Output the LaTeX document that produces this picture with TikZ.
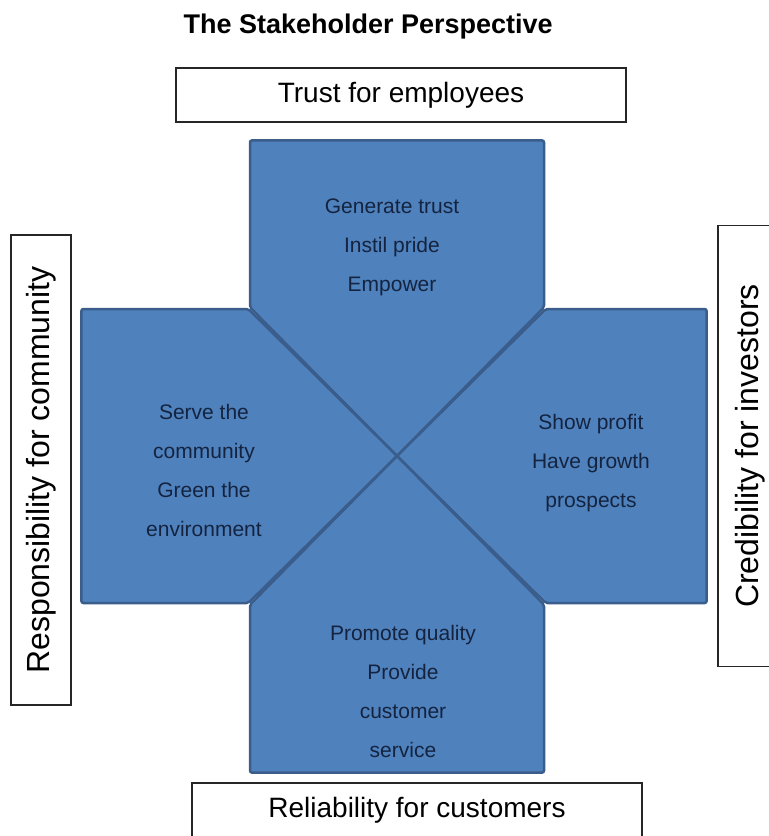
\documentclass[tikz,border=0pt]{standalone}
\usepackage{fontspec}
\setmainfont{Liberation Sans}
\definecolor{petalfill}{HTML}{4F81BD}
\definecolor{petalline}{HTML}{3A5D8B}
\definecolor{petalink}{HTML}{142440}
\tikzset{
    petal/.style={fill=petalfill, draw=petalline, line width=2.5pt, rounded corners=2pt},
    petaltext/.style={text=petalink, align=center, font=\fontsize{21}{39}\selectfont},
    sidebox/.style={draw=black!85, line width=1.3pt, inner sep=0pt, font=\fontsize{28}{32}\selectfont},
    upbox/.style={sidebox, rotate=90, font=\fontsize{32}{36}\selectfont}
}
\begin{document}
\begin{tikzpicture}[x=1pt, y=-1pt]
    \useasboundingbox[fill=white] (0,0) rectangle (769,836);

    \node[anchor=base west, font=\bfseries\fontsize{27}{30}\selectfont] (title) at (180,33) {The Stakeholder Perspective};

    % the four petals
    \coordinate (hub) at (397,456);
    \filldraw[petal, yshift=1.6pt] (250,142) -- (544,142) -- (544,309) -- (hub) -- (250,309) -- cycle;
    \filldraw[petal, xshift=-1.6pt] (83,309) -- (250,309) -- (hub) -- (250,603) -- (83,603) -- cycle;
    \filldraw[petal, xshift=1.6pt] (544,309) -- (705,309) -- (705,603) -- (544,603) -- (hub) -- cycle;
    \filldraw[petal, yshift=-1.6pt] (250,603) -- (hub) -- (544,603) -- (544,771) -- (250,771) -- cycle;

    \node[petaltext] (employ) at (392,247) {Generate trust\\Instil pride\\Empower};
    \node[petaltext] (commun) at (204,470) {Serve the\\community\\Green the\\environment};
    \node[petaltext] (invest) at (591,463) {Show profit\\Have growth\\prospects};
    \node[petaltext] (custom) at (403,691) {Promote quality\\Provide\\customer\\service};

    % outer labels
    \node[sidebox, minimum width=450pt, minimum height=54pt] (trust) at (401,95) {Trust for employees};
    \node[upbox, minimum width=470pt, minimum height=60pt] (resp) at (41,470) {Responsibility for community};
    \node[upbox, minimum width=441pt, minimum height=64pt] (cred) at (750,446) {Credibility for investors};
    \node[sidebox, minimum width=450pt, minimum height=54pt] (rely) at (417,810) {Reliability for customers};
\end{tikzpicture}
\end{document}
